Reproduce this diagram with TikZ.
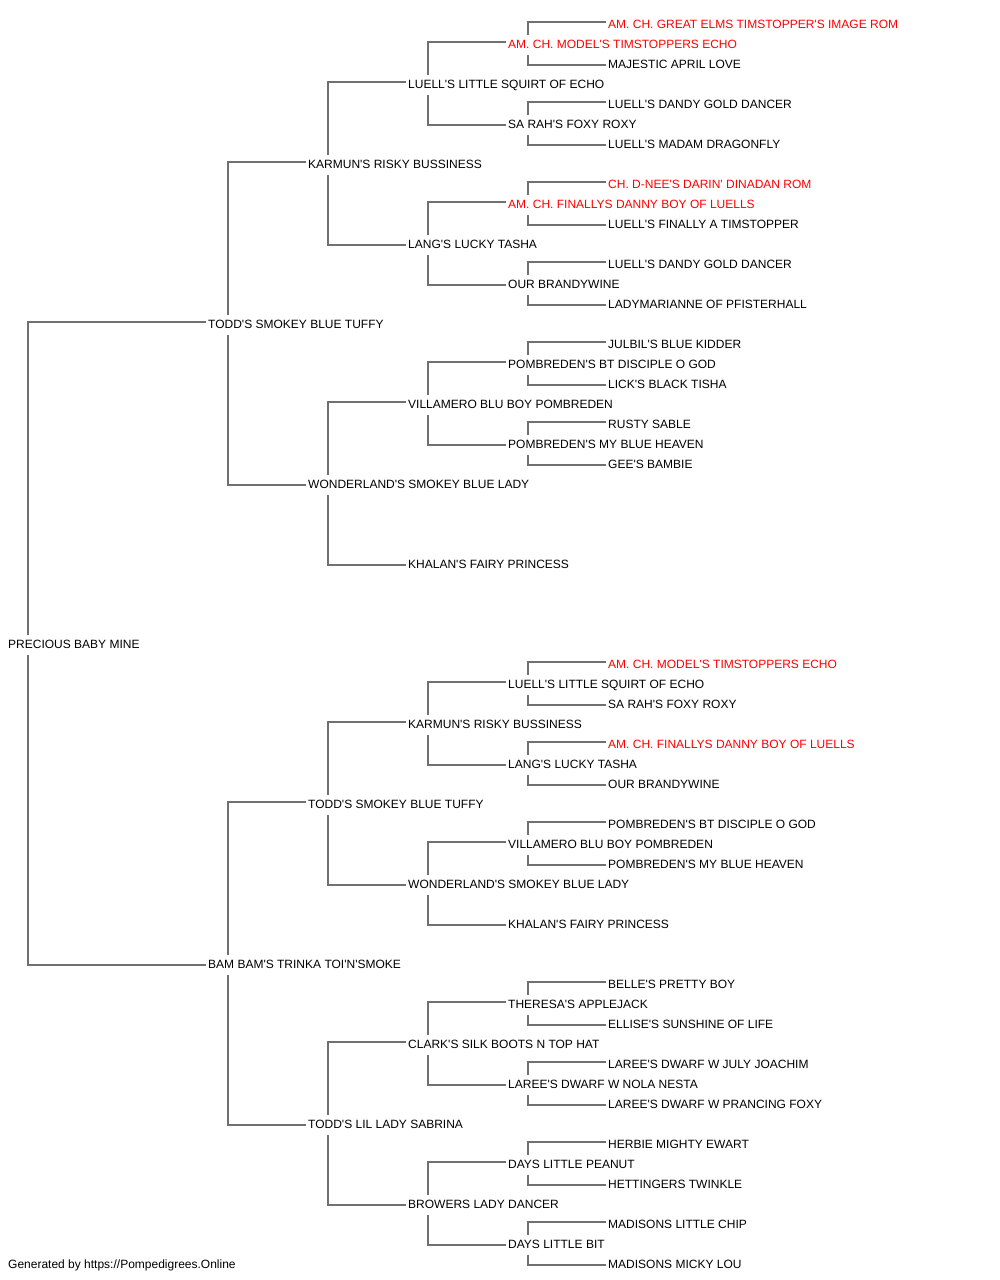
\documentclass[tikz,border=0pt]{standalone}
\usepackage{fontspec}
\setmainfont{Liberation Sans}[Ligatures=TeXOff]
\definecolor{linegray}{HTML}{707070}
\definecolor{champred}{HTML}{FF0000}

\begin{document}
\begin{tikzpicture}[x=1pt,y=-1pt,
		dog/.style={anchor=base west,inner xsep=2pt,inner ysep=2pt,text height=11pt,text depth=5pt,font=\fontsize{12}{14}\selectfont},
		link/.style={draw=linegray,line width=1.3pt}]
			\useasboundingbox (0,0) rectangle (1000,1280);
			% dogs: name/column/row/colour/label
			\foreach \id/\g/\k/\col/\lab in {%
				r/0/31/black/{PRECIOUS BABY MINE},
				s/2/15/black/{TODD'S SMOKEY BLUE TUFFY},
				d/2/47/black/{BAM BAM'S TRINKA TOI'N'SMOKE},
				ss/3/7/black/{KARMUN'S RISKY BUSSINESS},
				sd/3/23/black/{WONDERLAND'S SMOKEY BLUE LADY},
				ds/3/39/black/{TODD'S SMOKEY BLUE TUFFY},
				dd/3/55/black/{TODD'S LIL LADY SABRINA},
				sss/4/3/black/{LUELL'S LITTLE SQUIRT OF ECHO},
				ssd/4/11/black/{LANG'S LUCKY TASHA},
				sds/4/19/black/{VILLAMERO BLU BOY POMBREDEN},
				sdd/4/27/black/{KHALAN'S FAIRY PRINCESS},
				dss/4/35/black/{KARMUN'S RISKY BUSSINESS},
				dsd/4/43/black/{WONDERLAND'S SMOKEY BLUE LADY},
				dds/4/51/black/{CLARK'S SILK BOOTS N TOP HAT},
				ddd/4/59/black/{BROWERS LADY DANCER},
				ssss/5/1/champred/{AM. CH. MODEL'S TIMSTOPPERS ECHO},
				sssd/5/5/black/{SA RAH'S FOXY ROXY},
				ssds/5/9/champred/{AM. CH. FINALLYS DANNY BOY OF LUELLS},
				ssdd/5/13/black/{OUR BRANDYWINE},
				sdss/5/17/black/{POMBREDEN'S BT DISCIPLE O GOD},
				sdsd/5/21/black/{POMBREDEN'S MY BLUE HEAVEN},
				dsss/5/33/black/{LUELL'S LITTLE SQUIRT OF ECHO},
				dssd/5/37/black/{LANG'S LUCKY TASHA},
				dsds/5/41/black/{VILLAMERO BLU BOY POMBREDEN},
				dsdd/5/45/black/{KHALAN'S FAIRY PRINCESS},
				ddss/5/49/black/{THERESA'S APPLEJACK},
				ddsd/5/53/black/{LAREE'S DWARF W NOLA NESTA},
				ddds/5/57/black/{DAYS LITTLE PEANUT},
				dddd/5/61/black/{DAYS LITTLE BIT},
				sssss/6/0/champred/{AM. CH. GREAT ELMS TIMSTOPPER'S IMAGE ROM},
				ssssd/6/2/black/{MAJESTIC APRIL LOVE},
				sssds/6/4/black/{LUELL'S DANDY GOLD DANCER},
				sssdd/6/6/black/{LUELL'S MADAM DRAGONFLY},
				ssdss/6/8/champred/{CH. D-NEE'S DARIN' DINADAN ROM},
				ssdsd/6/10/black/{LUELL'S FINALLY A TIMSTOPPER},
				ssdds/6/12/black/{LUELL'S DANDY GOLD DANCER},
				ssddd/6/14/black/{LADYMARIANNE OF PFISTERHALL},
				sdsss/6/16/black/{JULBIL'S BLUE KIDDER},
				sdssd/6/18/black/{LICK'S BLACK TISHA},
				sdsds/6/20/black/{RUSTY SABLE},
				sdsdd/6/22/black/{GEE'S BAMBIE},
				dssss/6/32/champred/{AM. CH. MODEL'S TIMSTOPPERS ECHO},
				dsssd/6/34/black/{SA RAH'S FOXY ROXY},
				dssds/6/36/champred/{AM. CH. FINALLYS DANNY BOY OF LUELLS},
				dssdd/6/38/black/{OUR BRANDYWINE},
				dsdss/6/40/black/{POMBREDEN'S BT DISCIPLE O GOD},
				dsdsd/6/42/black/{POMBREDEN'S MY BLUE HEAVEN},
				ddsss/6/48/black/{BELLE'S PRETTY BOY},
				ddssd/6/50/black/{ELLISE'S SUNSHINE OF LIFE},
				ddsds/6/52/black/{LAREE'S DWARF W JULY JOACHIM},
				ddsdd/6/54/black/{LAREE'S DWARF W PRANCING FOXY},
				dddss/6/56/black/{HERBIE MIGHTY EWART},
				dddsd/6/58/black/{HETTINGERS TWINKLE},
				dddds/6/60/black/{MADISONS LITTLE CHIP},
				ddddd/6/62/black/{MADISONS MICKY LOU}}{
				\node[dog,text=\col] (\id) at ({6+100*\g},{28+20*\k}) {\lab};
			}
			% brackets: parent/sire/dam
			\foreach \p/\s/\d in {r/s/d,s/ss/sd,d/ds/dd,
				ss/sss/ssd,sd/sds/sdd,ds/dss/dsd,dd/dds/ddd,
				sss/ssss/sssd,ssd/ssds/ssdd,sds/sdss/sdsd,dss/dsss/dssd,dsd/dsds/dsdd,dds/ddss/ddsd,ddd/ddds/dddd,
				ssss/sssss/ssssd,sssd/sssds/sssdd,ssds/ssdss/ssdsd,ssdd/ssdds/ssddd,sdss/sdsss/sdssd,sdsd/sdsds/sdsdd,
				dsss/dssss/dsssd,dssd/dssds/dssdd,dsds/dsdss/dsdsd,ddss/ddsss/ddssd,ddsd/ddsds/ddsdd,ddds/dddss/dddsd,dddd/dddds/ddddd}{
				\draw[link] ([xshift=22pt]\p.north west) |- ([yshift=3pt]\s.west);
				\draw[link] ([xshift=22pt]\p.south west) |- (\d.west);
			}
			\node[dog] (foot) at (6,1268) {Generated by https://Pompedigrees.Online};
		\end{tikzpicture}
\end{document}
